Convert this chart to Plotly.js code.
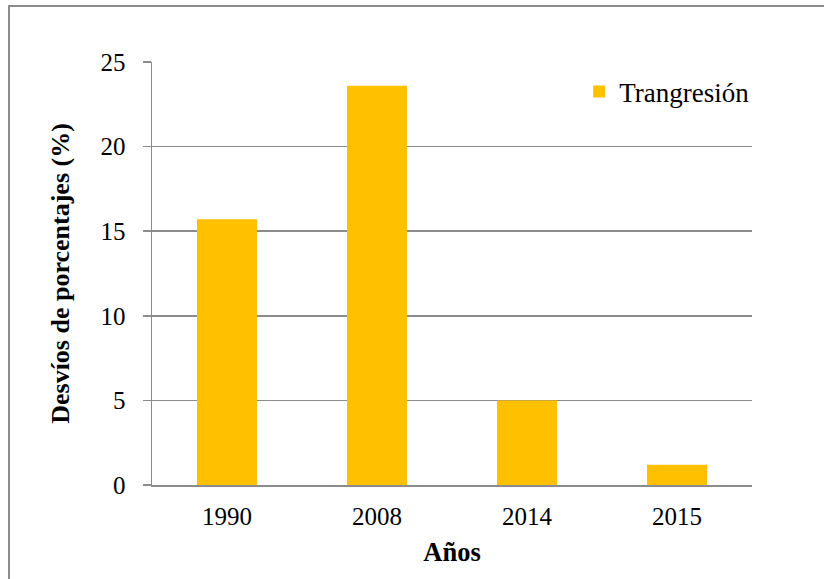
<!DOCTYPE html>
<html>
<head>
<meta charset="utf-8">
<script src="https://cdn.plot.ly/plotly-3.0.1.min.js"></script>
<style>
  html, body { margin: 0; padding: 0; background: #ffffff; }
  #wrap { position: relative; width: 824px; height: 579px; overflow: hidden; }
  #chart { width: 824px; height: 579px; }
  #frame { position: absolute; left: 8px; top: 5px; width: 900px; height: 700px;
           border-left: 2px solid #8c8c8c; border-top: 2px solid #8c8c8c; pointer-events: none; }
</style>
</head>
<body>
<div id="wrap">
  <div id="chart"></div>
  <div id="frame"></div>
</div>
<script>
const years = ["1990", "2008", "2014", "2015"];
const desvios = [15.7, 23.6, 5.0, 1.2];
const seriesName = "Trangresión";
const yTicks = [0, 5, 10, 15, 20, 25];

const serif = "'Liberation Serif', 'Times New Roman', Times, serif";
const gridColor = "#8c8c8c";

const trace = {
  type: "bar",
  x: years,
  y: desvios,
  name: seriesName,
  marker: { color: "#FFC000" },
  hoverinfo: "x+y"
};

const layout = {
  width: 824,
  height: 579,
  margin: { l: 152, r: 72, t: 62, b: 94 },
  paper_bgcolor: "#ffffff",
  plot_bgcolor: "#ffffff",
  font: { family: serif, size: 25, color: "#000000" },
  bargap: 0.6,
  showlegend: true,
  legend: {
    x: 0.712, y: 0.987, xanchor: "left", yanchor: "top",
    bgcolor: "rgba(0,0,0,0)",
    font: { family: serif, size: 27, color: "#000000" }
  },
  xaxis: {
    type: "category",
    showline: true, linecolor: gridColor, linewidth: 1.5,
    ticks: "", showgrid: false,
    ticklabelstandoff: 8,
    tickfont: { family: serif, size: 25 },
    title: { text: "<b>Años</b>", font: { family: serif, size: 26.5 }, standoff: 14 }
  },
  yaxis: {
    range: [0, 25],
    tickvals: yTicks,
    ticktext: yTicks.map(String),
    showline: true, linecolor: gridColor, linewidth: 1.5,
    ticks: "outside", ticklen: 8, tickcolor: gridColor, tickwidth: 1.5,
    ticklabelstandoff: 12,
    showgrid: true, gridcolor: gridColor, gridwidth: 1.5,
    zeroline: false,
    tickfont: { family: serif, size: 25 },
    title: { text: "<b>Desvíos de porcentajes (%)</b>", font: { family: serif, size: 26 }, standoff: 23 }
  }
};

Plotly.newPlot("chart", [trace], layout, { displayModeBar: false, staticPlot: true });
</script>
</body>
</html>
